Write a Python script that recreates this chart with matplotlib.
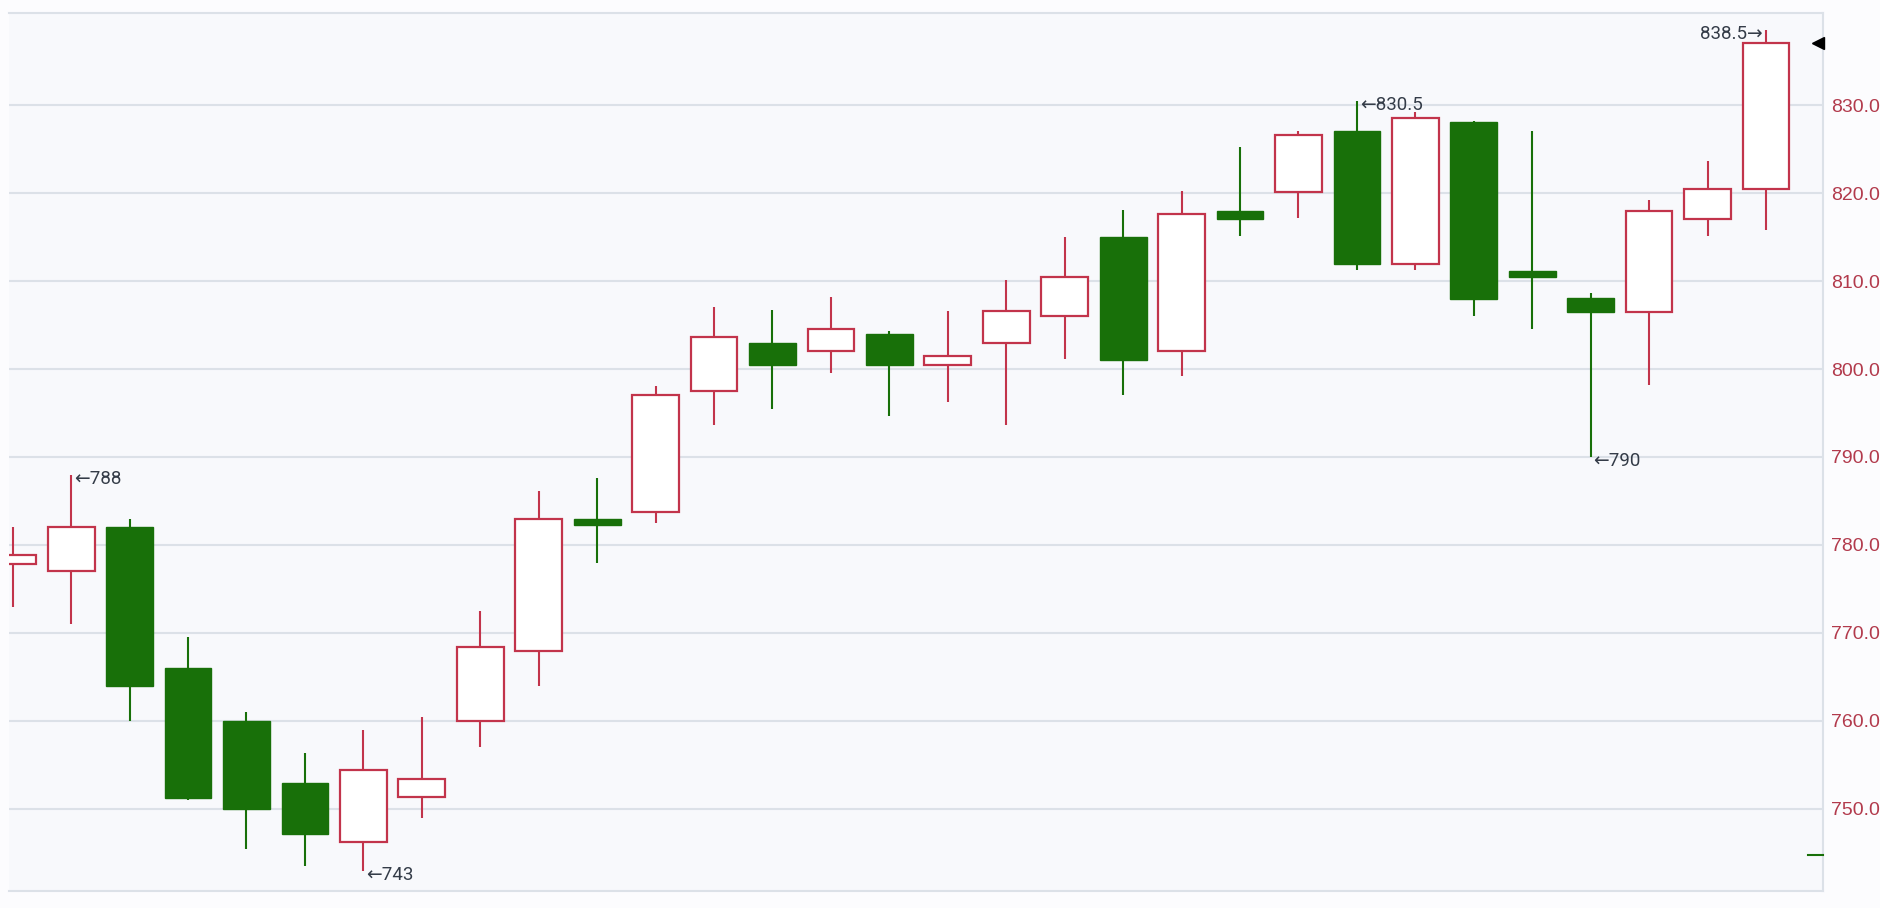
import matplotlib.pyplot as plt
import matplotlib.transforms as mtransforms
import numpy as np

# OHLC per candle (left to right)
opens = [777.8, 777.0, 782.0, 766.0, 760.0, 753.0, 746.2, 751.4, 760.0, 768.0,
         783.0, 783.8, 797.5, 803.0, 802.1, 804.0, 800.5, 802.9, 806.0, 815.0,
         802.0, 818.0, 820.1, 827.0, 811.9, 828.1, 811.1, 808.1, 806.5, 817.1, 820.5]
highs = [782.0, 788.0, 783.0, 769.5, 761.0, 756.4, 759.0, 760.5, 772.5, 786.1,
         787.6, 798.1, 807.1, 806.7, 808.2, 804.3, 806.6, 810.1, 815.0, 818.1,
         820.2, 825.2, 827.1, 830.5, 829.2, 828.2, 827.1, 808.6, 819.2, 823.6, 838.5]
lows = [773.0, 771.0, 760.0, 751.0, 745.5, 743.5, 743.0, 749.0, 757.0, 764.0,
        778.0, 782.5, 793.6, 795.5, 799.6, 794.7, 796.2, 793.6, 801.1, 797.0,
        799.2, 815.1, 817.2, 811.2, 811.3, 806.0, 804.5, 790.0, 798.2, 815.1, 815.8]
closes = [778.9, 782.0, 764.0, 751.3, 750.0, 747.2, 754.4, 753.4, 768.4, 783.0,
          782.3, 797.0, 803.6, 800.5, 804.5, 800.5, 801.5, 806.6, 810.5, 801.0,
          817.6, 817.0, 826.6, 811.9, 828.5, 808.0, 810.4, 806.5, 818.0, 820.5, 837.1]

y_ticks = [750, 760, 770, 780, 790, 800, 810, 820, 830]
last_price = 837.1
side_mark = 744.8

up_color = '#c2344b'
down_color = '#187009'
grid_color = '#dce1e8'
label_color = '#b23a4c'
text_color = '#343c48'

fig = plt.figure(figsize=(18.8, 9.08), dpi=100, facecolor='#fcfcfe')
ax = fig.add_axes([9 / 1880, 1 - 891 / 908, (1822.7 - 9) / 1880, (891 - 12.7) / 908])
ax.set_facecolor('#f8f9fc')

o = np.array(opens)
c = np.array(closes)
x = np.arange(len(o))
up = c >= o

# wicks
ax.vlines(x[up], np.array(lows)[up], np.array(highs)[up], color=up_color, lw=1.5, zorder=2)
ax.vlines(x[~up], np.array(lows)[~up], np.array(highs)[~up], color=down_color, lw=1.5, zorder=2)

# bodies
ax.bar(x[up], (c - o)[up], bottom=o[up], width=0.8, facecolor='white',
       edgecolor=up_color, linewidth=1.6, zorder=3)
ax.bar(x[~up], (o - c)[~up], bottom=c[~up], width=0.8, facecolor=down_color,
       edgecolor=down_color, linewidth=1.0, zorder=3)

# high / low markers
font = dict(fontsize=13.5, color=text_color, family=['Roboto', 'DejaVu Sans'])
ax.annotate('\u2190788', xy=(1, highs[1]), xytext=(2, -3), textcoords='offset points',
            ha='left', va='center', **font)
ax.annotate('\u2190743', xy=(6, lows[6]), xytext=(2, -3), textcoords='offset points',
            ha='left', va='center', **font)
ax.annotate('\u2190830.5', xy=(23, highs[23]), xytext=(2, -3), textcoords='offset points',
            ha='left', va='center', **font)
ax.annotate('\u2190790', xy=(27, lows[27]), xytext=(2, -3), textcoords='offset points',
            ha='left', va='center', **font)
ax.annotate('838.5\u2192', xy=(30, highs[30]), xytext=(-2, -3), textcoords='offset points',
            ha='right', va='center', **font)

# last price pointer and small marker on the right edge
trans = mtransforms.blended_transform_factory(ax.transAxes, ax.transData)
ax.plot([0.9972], [last_price], marker='<', ms=8, color='black', transform=trans,
        clip_on=False, zorder=5)
ax.plot([0.9917, 1.0], [side_mark, side_mark], color=down_color, lw=1.5,
        transform=trans, clip_on=False, zorder=5)

ax.set_xlim(-0.063, 30.97)
ax.set_ylim(740.68, 840.49)

ax.yaxis.tick_right()
ax.set_yticks(y_ticks)
ax.set_yticklabels(['%.1f' % v for v in y_ticks])
ax.tick_params(axis='y', length=0, pad=6, labelsize=14, labelcolor=label_color)
for lab in ax.get_yticklabels():
    lab.set_family(['Liberation Sans', 'DejaVu Sans'])
ax.set_xticks([])
ax.grid(True, axis='y', color=grid_color, lw=1.5)
ax.set_axisbelow(True)

ax.spines['left'].set_visible(False)
for s in ['top', 'bottom', 'right']:
    ax.spines[s].set_color(grid_color)
    ax.spines[s].set_linewidth(1.5)

plt.savefig('out.png', dpi=100, facecolor=fig.get_facecolor())
plt.close()
